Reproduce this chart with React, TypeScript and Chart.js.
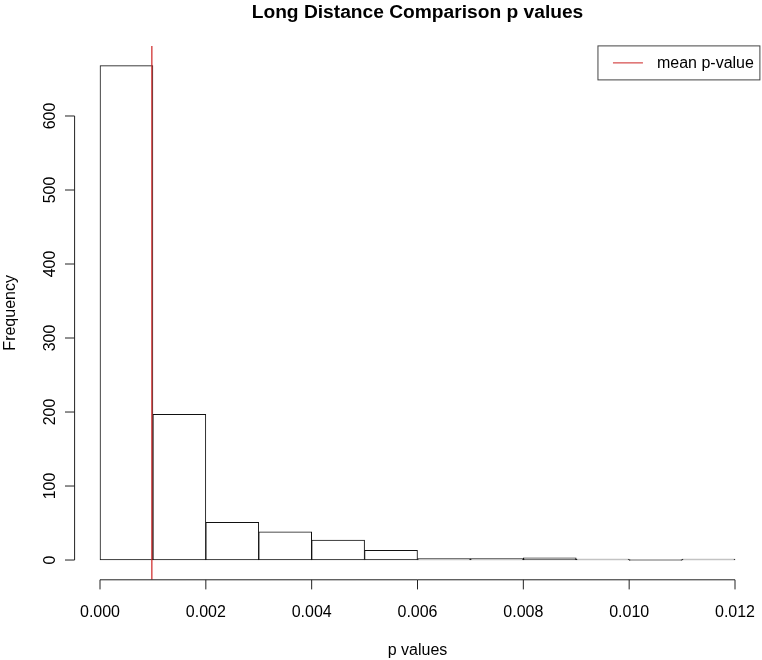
import React, { useEffect, useRef } from "react";
import { Chart, registerables } from "chart.js";

Chart.register(...registerables);

// ---- data ----
const binEdges = [0, 0.001, 0.002, 0.003, 0.004, 0.005, 0.006, 0.007, 0.008, 0.009, 0.01, 0.011, 0.012];
const counts = [668, 197, 51, 38, 27, 13, 2, 2, 3, 1, 0, 1];
const meanPValue = 0.00098;
const xTickValues = [0, 0.002, 0.004, 0.006, 0.008, 0.01, 0.012];
const xTickLabels = ["0.000", "0.002", "0.004", "0.006", "0.008", "0.010", "0.012"];
const yTickValues = [0, 100, 200, 300, 400, 500, 600];
const yTickLabels = ["0", "100", "200", "300", "400", "500", "600"];
const titleText = "Long Distance Comparison p values";
const xTitle = "p values";
const yTitle = "Frequency";
const legendLabel = "mean p-value";

const FONT = "'Liberation Sans', Arial, Helvetica, sans-serif";
const RED = "rgb(205,35,35)";
const AXIS = "#222";

export default function App() {
  const ref = useRef<HTMLCanvasElement | null>(null);

  useEffect(() => {
    const canvas = ref.current;
    if (!canvas) return;

    const xLo = binEdges[0];
    const xHi = binEdges[binEdges.length - 1];
    const xPad = 0.04 * (xHi - xLo);
    const yTop = Math.max(...counts);
    const yPad = 0.04 * yTop;
    const yMin = -yPad;
    const yMax = yTop + yPad;

    const barData = counts.map((c, i) => ({ x: (binEdges[i] + binEdges[i + 1]) / 2, y: c }));

    const rAxes = {
      id: "rAxes",
      afterDraw(chart: any) {
        const ctx = chart.ctx as CanvasRenderingContext2D;
        const area = chart.chartArea;
        const xs = chart.scales.x;
        const ys = chart.scales.y;
        const tick = 9.6;
        ctx.save();
        ctx.strokeStyle = AXIS;
        ctx.lineWidth = 1;
        ctx.fillStyle = "#000";

        // x axis
        const xa = xs.getPixelForValue(xTickValues[0]);
        const xb = xs.getPixelForValue(xTickValues[xTickValues.length - 1]);
        const yb = area.bottom;
        ctx.beginPath();
        ctx.moveTo(xa, yb);
        ctx.lineTo(xb, yb);
        xTickValues.forEach((v) => {
          const px = xs.getPixelForValue(v);
          ctx.moveTo(px, yb);
          ctx.lineTo(px, yb + tick);
        });
        ctx.stroke();
        ctx.font = `16px ${FONT}`;
        ctx.textAlign = "center";
        ctx.textBaseline = "alphabetic";
        xTickValues.forEach((v, i) => {
          ctx.fillText(xTickLabels[i], xs.getPixelForValue(v), yb + 37);
        });

        // y axis
        const xl = area.left;
        const ya = ys.getPixelForValue(yTickValues[0]);
        const yc = ys.getPixelForValue(yTickValues[yTickValues.length - 1]);
        ctx.beginPath();
        ctx.moveTo(xl, ya);
        ctx.lineTo(xl, yc);
        yTickValues.forEach((v) => {
          const py = ys.getPixelForValue(v);
          ctx.moveTo(xl, py);
          ctx.lineTo(xl - tick, py);
        });
        ctx.stroke();
        yTickValues.forEach((v, i) => {
          ctx.save();
          ctx.translate(xl - 20.1, ys.getPixelForValue(v));
          ctx.rotate(-Math.PI / 2);
          ctx.fillText(yTickLabels[i], 0, 0);
          ctx.restore();
        });

        // axis titles
        const cx = (area.left + area.right) / 2;
        const cy = (area.top + area.bottom) / 2;
        ctx.fillText(xTitle, cx, yb + 75);
        ctx.save();
        ctx.translate(15, cy);
        ctx.rotate(-Math.PI / 2);
        ctx.fillText(yTitle, 0, 0);
        ctx.restore();

        // main title
        ctx.font = `bold 19.2px ${FONT}`;
        ctx.fillText(titleText, cx, 18);

        // legend box
        ctx.font = `16px ${FONT}`;
        const tw = ctx.measureText(legendLabel).width;
        const right = area.right - 0.5;
        const left = right - (65 + tw);
        const top = area.top;
        const h = 34;
        ctx.strokeStyle = "#444";
        ctx.strokeRect(left, top, right - left, h);
        ctx.strokeStyle = RED;
        ctx.beginPath();
        ctx.moveTo(left + 15, top + h / 2);
        ctx.lineTo(left + 45, top + h / 2);
        ctx.stroke();
        ctx.textAlign = "left";
        ctx.textBaseline = "middle";
        ctx.fillStyle = "#000";
        ctx.fillText(legendLabel, left + 59, top + h / 2 + 1);
        ctx.restore();
      },
    };

    const chart = new Chart(canvas, {
      type: "bar",
      data: {
        datasets: [
          {
            type: "line",
            label: legendLabel,
            data: [
              { x: meanPValue, y: yMin },
              { x: meanPValue, y: yMax },
            ],
            borderColor: RED,
            borderWidth: 1.2,
            pointRadius: 0,
            fill: false,
            order: 0,
          } as any,
          {
            type: "bar",
            label: "counts",
            data: barData,
            backgroundColor: "#fff",
            borderColor: "#111",
            borderWidth: 1,
            borderSkipped: false,
            barPercentage: 1,
            categoryPercentage: 1,
            minBarLength: 1,
            order: 1,
          } as any,
        ],
      },
      options: {
        responsive: false,
        animation: false,
        devicePixelRatio: 1,
        layout: { padding: { left: 74.6, right: 1.6, top: 45.9, bottom: 80.2 } },
        scales: {
          x: { type: "linear", min: xLo - xPad, max: xHi + xPad, display: false, offset: false },
          y: { type: "linear", min: yMin, max: yMax, display: false },
        },
        plugins: {
          legend: { display: false },
          tooltip: { enabled: false },
          title: { display: false },
        },
      } as any,
      plugins: [rAxes],
    });

    return () => chart.destroy();
  }, []);

  return (
    <div style={{ position: "fixed", left: 0, top: 0, width: 762, height: 660, background: "#fff" }}>
      <canvas ref={ref} width={762} height={660} style={{ display: "block" }} />
    </div>
  );
}
